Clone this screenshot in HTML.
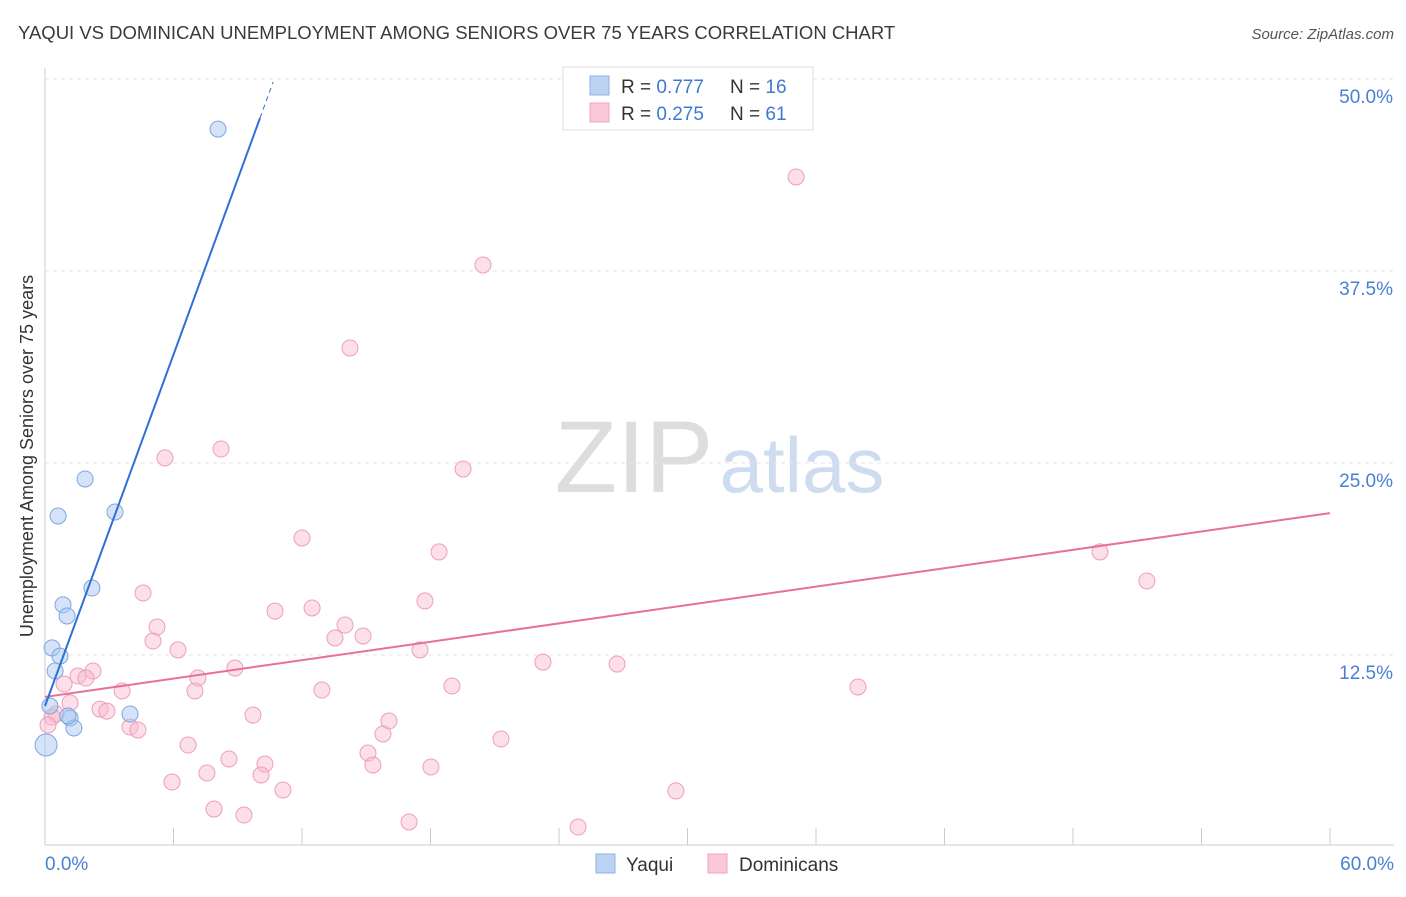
<!DOCTYPE html>
<html><head><meta charset="utf-8"><style>
body{margin:0;background:#fff;font-family:"Liberation Sans",sans-serif}
svg text{font-family:"Liberation Sans",sans-serif}
</style></head><body>
<svg width="1406" height="892" xmlns="http://www.w3.org/2000/svg">
<text x="18" y="39" font-size="18.5" fill="#3a3a3a">YAQUI VS DOMINICAN UNEMPLOYMENT AMONG SENIORS OVER 75 YEARS CORRELATION CHART</text>
<text x="1394" y="39" font-size="15" fill="#555" text-anchor="end" font-style="italic">Source: ZipAtlas.com</text>
<text x="634" y="492" font-size="102" fill="#ddd" font-family="Liberation Serif" text-anchor="middle">ZIP</text>
<text x="802" y="492" font-size="78" fill="#cfdcf0" text-anchor="middle">atlas</text>
<g id="grid"></g><g id="axes"></g><g id="marks"></g>
<text x="33" y="456" font-size="18" fill="#333" text-anchor="middle" transform="rotate(-90 33 456)">Unemployment Among Seniors over 75 years</text>
<text x="45" y="870" font-size="19" fill="#4a7fd4">0.0%</text>
<text x="1394" y="870" font-size="19" fill="#4a7fd4" text-anchor="end">60.0%</text>
<g>
<rect x="563" y="67" width="250" height="63" fill="#fff" stroke="#ddd"/>
<rect x="590" y="76" width="19" height="19" fill="#bcd4f4" stroke="#8fb0e0"/>
<rect x="590" y="103" width="19" height="19" fill="#fbc8d8" stroke="#eea5bd"/>
<text x="621" y="93" font-size="19" fill="#333">R = <tspan fill="#3f78d4">0.777</tspan></text>
<text x="730" y="93" font-size="19" fill="#333">N = <tspan fill="#3f78d4">16</tspan></text>
<text x="621" y="120" font-size="19" fill="#333">R = <tspan fill="#3f78d4">0.275</tspan></text>
<text x="730" y="120" font-size="19" fill="#333">N = <tspan fill="#3f78d4">61</tspan></text>
</g>
<g>
<rect x="596" y="854" width="19" height="19" fill="#bcd4f4" stroke="#8fb0e0"/>
<text x="626" y="871" font-size="19" fill="#333">Yaqui</text>
<rect x="708" y="854" width="19" height="19" fill="#fbc8d8" stroke="#eea5bd"/>
<text x="739" y="871" font-size="19" fill="#333">Dominicans</text>
</g>
</svg>
<script>
const yTicks=[12.5,25,37.5,50];
const yTickLabels=["12.5%","25.0%","37.5%","50.0%"];
const xTicks=[0,6,12,18,24,30,36,42,48,54,60];
const yaquiX=[8.08,1.87,0.61,3.27,2.19,0.84,1.03,0.33,0.70,0.47,0.23,1.17,1.35,3.97,0.05,1.07];
const yaquiY=[46.74,23.96,21.55,21.81,16.86,15.76,15.04,12.96,12.43,11.46,9.18,8.40,7.75,8.66,6.64,8.53];
const domX=[35.07,20.45,14.24,8.22,5.60,19.52,12.00,18.40,49.26,51.45,4.58,17.74,10.74,12.47,14.01,5.23,14.85,13.54,5.04,6.21,17.51,23.25,26.71,2.24,1.54,1.91,7.14,8.87,0.89,3.60,7.00,12.93,19.00,37.96,1.17,2.57,2.89,0.51,9.71,16.06,3.97,4.34,15.78,21.29,6.68,15.08,8.59,10.27,15.31,18.02,7.56,10.09,5.93,11.11,29.46,7.89,9.29,17.00,24.89,0.33,0.14];
const domY=[43.62,37.89,32.49,25.91,25.33,24.61,20.12,19.21,19.21,17.32,16.54,16.02,15.36,15.56,14.45,14.32,13.74,13.61,13.41,12.83,12.83,12.04,11.91,11.46,11.13,11.00,11.00,11.65,10.61,10.16,10.16,10.22,10.48,10.42,9.38,8.98,8.85,8.66,8.59,8.20,7.81,7.62,7.36,7.03,6.64,6.12,5.73,5.40,5.34,5.21,4.82,4.69,4.23,3.71,3.65,2.47,2.08,1.63,1.30,8.46,7.94];
const yaquiLine=[0,9.18,10.04,47.46,10.65,49.8];
const domLine=[0,9.77,60,21.74];
const NS="http://www.w3.org/2000/svg";
const X=v=>45+v*1285/60, Y=v=>847-v*15.36;
function mk(t,a,p){const e=document.createElementNS(NS,t);for(const k in a)e.setAttribute(k,a[k]);document.getElementById(p).appendChild(e);return e;}
yTicks.forEach((t,i)=>{
 const l=mk('line',{x1:45,x2:1394,y1:Y(t),y2:Y(t),stroke:'#e4e4e4','stroke-dasharray':'4,4'},'grid');
 
 
 const tx=mk('text',{x:1393,y:Y(t)+24,'font-size':19,fill:'#4a7fd4','text-anchor':'end'},'grid');
 tx.textContent=yTickLabels[i];
 
 
});
const xa=mk('line',{x1:45,x2:1394,y1:845,y2:845,stroke:'#ccc'},'axes');


const ya=mk('line',{x1:45,x2:45,y1:68,y2:845,stroke:'#ccc'},'axes');


xTicks.forEach(t=>{const l=mk('line',{x1:X(t),x2:X(t),y1:828,y2:845,stroke:'#ccc'},'axes');
 
 });
domX.forEach((v,i)=>{const c=mk('circle',{cx:X(v),cy:Y(domY[i]),r:8,fill:'rgba(248,185,205,0.45)',stroke:'#eba0b9','stroke-width':1},'marks');
 
 });
yaquiX.forEach((v,i)=>{const c=mk('circle',{cx:X(v),cy:Y(yaquiY[i]),r:i==14?11:8,fill:'rgba(170,200,240,0.5)',stroke:'#7ea6de','stroke-width':1},'marks');
 
 });
const dl=mk('line',{x1:X(domLine[0]),y1:Y(domLine[1]),x2:X(domLine[2]),y2:Y(domLine[3]),stroke:'#e8709a','stroke-width':2},'marks');


const yl=mk('line',{x1:X(yaquiLine[0]),y1:Y(yaquiLine[1]),x2:X(yaquiLine[2]),y2:Y(yaquiLine[3]),stroke:'#2f6fd6','stroke-width':2},'marks');


const yd=mk('line',{x1:X(yaquiLine[2]),y1:Y(yaquiLine[3]),x2:X(yaquiLine[4]),y2:Y(yaquiLine[5]),stroke:'#2f6fd6','stroke-width':1,'stroke-dasharray':'5,4'},'marks');


</script>
</body></html>
